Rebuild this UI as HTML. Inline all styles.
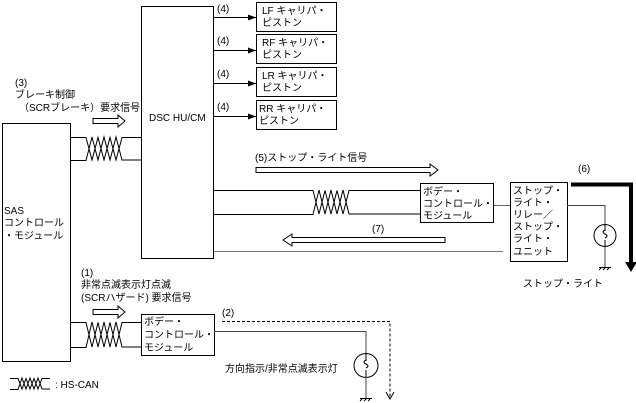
<!DOCTYPE html>
<html><head><meta charset="utf-8"><style>
html,body{margin:0;padding:0;background:#fff}
svg{display:block}
text{font-family:"Liberation Sans","Noto Sans CJK JP",sans-serif;font-size:10px;fill:#000}
</style></head><body>
<svg width="636" height="403" viewBox="0 0 636 403" xmlns="http://www.w3.org/2000/svg">
<defs>
<marker id="ah" markerWidth="8" markerHeight="6" refX="8" refY="3" orient="auto" markerUnits="userSpaceOnUse"><path d="M0,0 L8,3 L0,6 z" fill="#000"/></marker>
</defs>
<g fill="none" stroke="#000" stroke-width="1">
<!-- SAS -->
<rect x="2.5" y="123.5" width="68" height="238"/>
<!-- DSC -->
<rect x="141.5" y="6.5" width="72" height="252"/>
<!-- calipers -->
<rect x="256.5" y="2.5" width="80" height="29"/>
<rect x="256.5" y="34.5" width="80" height="29"/>
<rect x="256.5" y="67.5" width="80" height="29"/>
<rect x="256.5" y="100.5" width="80" height="29"/>
<line x1="214" y1="17.5" x2="256" y2="17.5" marker-end="url(#ah)"/>
<line x1="214" y1="50.5" x2="256" y2="50.5" marker-end="url(#ah)"/>
<line x1="214" y1="83.5" x2="256" y2="83.5" marker-end="url(#ah)"/>
<line x1="214" y1="116.5" x2="256" y2="116.5" marker-end="url(#ah)"/>
<!-- CAN SAS-DSC -->
<path d="M71 137.5 H86 L92 160 L98 137.5 L104 160 L110 137.5 L116 160 L122 137.5 H141"/>
<path d="M71 160.5 H86 L92 137 L98 160 L104 137 L110 160 L116 137 L122 160 H141"/>
<!-- arrow 3 -->
<path d="M93 118.5 H118 V115 L125 121 L118 127 V123.5 H93 Z"/>
<!-- arrow 5 -->
<path d="M256 167.5 H430 V164 L438 170 L430 176 V172.5 H256 Z"/>
<!-- CAN DSC-BCM -->
<path d="M214 190.5 H313 L319 214 L325 190.5 L331 214 L337 190.5 L343 214 L349 190.5 H420"/>
<path d="M214 214.5 H313 L319 190 L325 214 L331 190 L337 214 L343 190 L349 214 H420"/>
<rect x="420.5" y="183.5" width="73" height="39"/>
<line x1="494" y1="205.5" x2="510" y2="205.5" stroke="#666"/>
<rect x="510.5" y="182.5" width="57" height="79"/>
<path d="M567 205.5 H605 V224" stroke="#444"/>
<circle cx="605" cy="235.5" r="11"/>
<path d="M605 230 q-4 2 0 4 q4 2 0 4 M605 224 V231 M605 240 V247" />
<path d="M605 247 V267" stroke="#444"/>
<path d="M599 267.5 H611 M599 270 l2 -2 M603 270 l2 -2 M607 270 l2 -2"/>
<!-- arrow 7 -->
<path d="M445 237.5 H292 V234 L283 240 L292 246 V242.5 H445 Z"/>
<line x1="214" y1="251.5" x2="503" y2="251.5" stroke="#777"/>
<!-- thick arrow 6 -->
<path d="M571 184.5 H631 V262" stroke-width="4"/>
<!-- bottom -->
<path d="M93 309.5 H118 V306 L125 312 L118 318 V314.5 H93 Z"/>
<path d="M71 322.5 H86 L92 347 L98 322.5 L104 347 L110 322.5 L116 347 L122 322.5 H141"/>
<path d="M71 347.5 H86 L92 322 L98 347 L104 322 L110 347 L116 322 L122 347 H141"/>
<rect x="141.5" y="314.5" width="73" height="41"/>
<path d="M214 331.5 H366 V353" stroke="#444"/>
<circle cx="366" cy="365.5" r="12"/>
<path d="M366 360 q-4 2 0 4 q4 2 0 4 M366 353 V361 M366 370 V377"/>
<path d="M366 377 V398" stroke="#444"/>
<path d="M360 398.5 H372 M360 401 l2 -2 M364 401 l2 -2 M368 401 l2 -2"/>
<path d="M222 321.5 H390 V398" stroke-dasharray="3,2"/>
<path d="M386 392 L390 399 L394 392"/>
<!-- legend -->
<path d="M10 378.5 H18 L22 389 L26 378.5 L30 389 L34 378.5 L38 389 L42 378.5 H50"/>
<path d="M10 389.5 H18 L22 378 L26 389 L30 378 L34 389 L38 378 L42 389 H50"/>
</g>
<polygon points="625,262 637,262 631,272" fill="#000"/>
<text x="217" y="12">(4)</text><text x="217" y="44">(4)</text><text x="217" y="77">(4)</text><text x="217" y="110">(4)</text>
<text x="262" y="14">LF キャリパ・</text><text x="262" y="26">ピストン</text>
<text x="262" y="46">RF キャリパ・</text><text x="262" y="58">ピストン</text>
<text x="262" y="79">LR キャリパ・</text><text x="262" y="91">ピストン</text>
<text x="259" y="112">RR キャリパ・</text><text x="259" y="124">ピストン</text>
<text x="149" y="121">DSC HU/CM</text>
<text x="15" y="86">(3)</text>
<text x="15" y="98">ブレーキ制御</text>
<text x="19" y="111">（SCRブレーキ）要求信号</text>
<text x="4" y="214">SAS</text>
<text x="4" y="226">コントロール</text>
<text x="4" y="239">・モジュール</text>
<text x="255" y="161">(5)ストップ・ライト信号</text>
<text x="423" y="195">ボデー・</text>
<text x="423" y="207">コントロール・</text>
<text x="423" y="219">モジュール</text>
<text x="513" y="194">ストップ・</text>
<text x="513" y="206">ライト・</text>
<text x="513" y="218">リレー／</text>
<text x="513" y="230">ストップ・</text>
<text x="513" y="242">ライト・</text>
<text x="513" y="255">ユニット</text>
<text x="578" y="172">(6)</text>
<text x="372" y="232">(7)</text>
<text x="523" y="287">ストップ・ライト</text>
<text x="81" y="276">(1)</text>
<text x="81" y="288">非常点滅表示灯点滅</text>
<text x="81" y="301">(SCRハザード) 要求信号</text>
<text x="144" y="325">ボデー・</text>
<text x="144" y="338">コントロール・</text>
<text x="144" y="351">モジュール</text>
<text x="222" y="316">(2)</text>
<text x="225" y="372">方向指示/非常点滅表示灯</text>
<text x="55" y="388">: HS-CAN</text>
</svg>
</body></html>
